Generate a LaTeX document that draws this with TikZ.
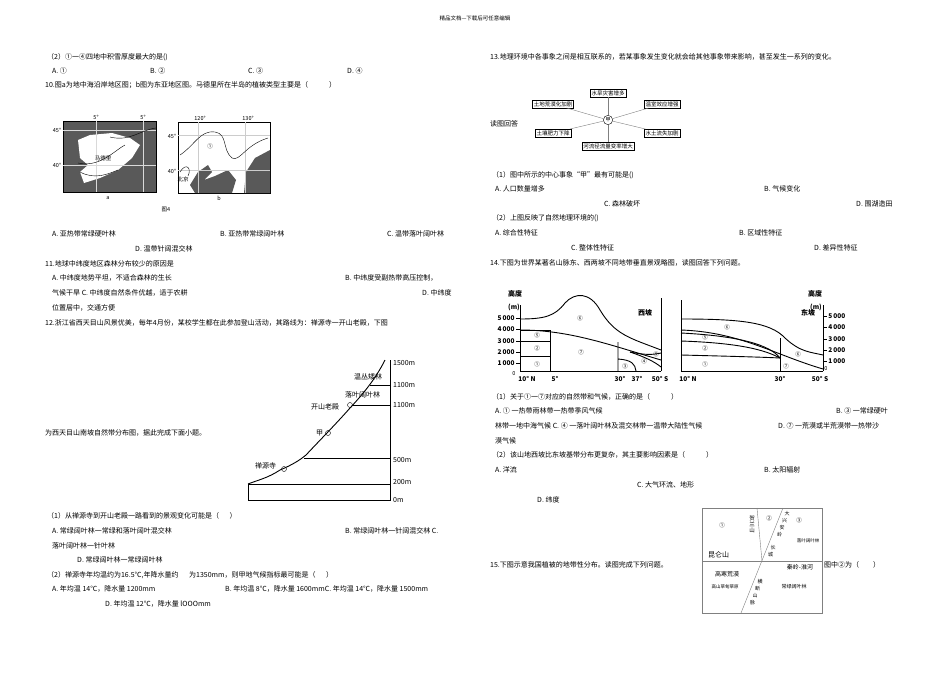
\documentclass[tikz,border=0pt]{standalone}
\usepackage{fontspec}
\setmainfont{Noto Sans CJK SC}
\begin{document}
\begin{tikzpicture}[x=1pt,y=-1pt,
 t/.style={anchor=west,inner sep=0pt,font=\fontsize{7}{8}\selectfont},
 s/.style={inner sep=0pt,font=\fontsize{5.5}{6}\selectfont},
 ch/.style={inner sep=0pt,font=\fontsize{5}{5}\selectfont},
 ebox/.style={draw,inner sep=1.2pt,font=\fontsize{5.5}{6}\selectfont,fill=white},
 thk/.style={line width=0.9pt}]
\useasboundingbox (0,0) rectangle (950,672);
\node[s] (hdr) at (475,18) {精品文档---下载后可任意编辑};
% ===== left column =====
\node[t] (q2) at (47,57) {（2）①一④四地中积雪厚度最大的是()};
\node[t] (q2a) at (52,71) {A. ①};
\node[t] (q2b) at (150,71) {B. ②};
\node[t] (q2c) at (248,71) {C. ③};
\node[t] (q2d) at (347,71) {D. ④};
\node[t] (q10) at (45,85) {10.图a为地中海沿岸地区图；b图为东亚地区图。马德里所在半岛的植被类型主要是（\hspace{3em}）};
% map a
\fill[gray!70!black] (63,121) rectangle (156,192);
\fill[white] (78,140) -- (90,135) -- (112,133) -- (130,138) -- (140,145) -- (132,158) -- (118,170) -- (100,178) -- (84,183) -- (80,172) -- (88,165) -- (80,158) -- cycle;
\draw (63,121) rectangle (156,192);
\draw[gray!30] (63,130) -- (156,130) (63,165) -- (156,165) (96,121) -- (96,192) (143,121) -- (143,192);
\draw (110,137) .. controls (130,142) and (140,130) .. (156,128);
\draw (78,163) .. controls (100,168) and (115,150) .. (125,145);
\draw (80,172) .. controls (95,180) and (108,174) .. (118,170);
\node[s] (mad) at (103,158) {马德里};
\node[s] (a45) at (57,130) {45°}; \node[s] (a40) at (57,165) {40°};
\node[s] (a5l) at (96,117) {5°}; \node[s] (a5r) at (143,117) {5°};
\node[s] (la) at (108,198) {a};
% map b
\draw (178,122) rectangle (270,193);
\fill[gray!70!black] (270,150) -- (255,158) -- (246,172) -- (244,193) -- (270,193) -- cycle;
\fill[gray!70!black] (190,185) -- (198,172) -- (208,165) -- (212,172) -- (204,180) -- (215,176) -- (228,170) -- (236,180) -- (232,193) -- (195,193) -- cycle;
\draw[gray!40] (178,135) -- (270,135) (178,170) -- (270,170) (198,122) -- (198,193) (245,122) -- (245,193);
\draw (180,155) .. controls (195,145) and (200,130) .. (215,132) .. controls (228,134) and (222,150) .. (232,158) .. controls (240,162) and (245,145) .. (268,138);
\draw (180,172) .. controls (186,162) and (192,168) .. (188,176);
\node[s] (c1) at (210,146) {①};
\node[s] (bj) at (183,179) {北京};
\node[s] (b45) at (172,136) {45°}; \node[s] (b40) at (172,171) {40°};
\node[s] (b120) at (200,118) {120°}; \node[s] (b130) at (248,118) {130°};
\node[s] (lb) at (219,198) {b};
\node[s] (fig4) at (166,210) {图4};
\node[t] (q10a) at (52,234) {A. 亚热带常绿硬叶林};
\node[t] (q10b) at (220,234) {B. 亚热带常绿阔叶林};
\node[t] (q10c) at (387,234) {C. 温带落叶阔叶林};
\node[t] (q10d) at (135,249) {D. 温带针阔混交林};
\node[t] (q11) at (45,264) {11.地球中纬度地区森林分布较少的原因是};
\node[t] (q11a) at (52,278) {A. 中纬度地势平坦，不适合森林的生长};
\node[t] (q11b) at (345,278) {B. 中纬度受副热带高压控制，};
\node[t] (q11c) at (52,293) {气候干旱 C. 中纬度自然条件优越，适于农耕};
\node[t] (q11d) at (422,293) {D. 中纬度};
\node[t] (q11e) at (52,308) {位置居中，交通方便};
\node[t] (q12) at (45,323) {12.浙江省西天目山风景优美，每年4月份，某校学生都在此参加登山活动，其路线为：禅源寺一开山老殿，下图};
% mountain
\draw[thk] (248,500) -- (248,484) -- (390,484);
\draw[thk] (248,500) -- (390,500) -- (390,360);
\draw[thk] (248,484) .. controls (258,480) and (268,478) .. (280,470) .. controls (292,465) and (300,460) .. (306,455) .. controls (320,440) and (335,425) .. (350,408) .. controls (362,395) and (375,380) .. (385,360);
\draw[thk] (304,458) -- (390,458) (352,405) -- (390,405) (370,385) -- (390,385);
\node[t] (h1500) at (393,363) {1500m}; \node[t] (h1100a) at (393,385) {1100m};
\node[t] (h1100b) at (393,405) {1100m}; \node[t] (h500) at (393,460) {500m};
\node[t] (h200) at (393,482) {200m}; \node[t] (h0) at (393,500) {0m};
\node[t] (wc) at (354,377) {温丛矮林};
\node[t] (lyk) at (345,395) {落叶阔叶林};
\node[t] (ksld) at (311,407) {开山老殿};
\draw (350,405) circle (2.5);
\node[t] (jia) at (316,433) {甲}; \draw (328,433) circle (2.5);
\node[t] (cys) at (255,466) {禅源寺}; \draw (284,469) circle (2.5);
\node[t] (q12b) at (45,433) {为西天目山南坡自然带分布图，据此完成下面小题。};
\node[t] (q121) at (47,516) {（1）从禅源寺到开山老殿一路看到的景观变化可能是（\hspace{1.5em}）};
\node[t] (q121a) at (52,531) {A. 常绿阔叶林一常绿和落叶阔叶混交林};
\node[t] (q121b) at (345,531) {B. 常绿阔叶林一针阔混交林 C.};
\node[t] (q121c) at (52,546) {落叶阔叶林一针叶林};
\node[t] (q121d) at (77,560) {D. 常绿阔叶林一常绿阔叶林};
\node[t] (q122) at (47,575) {（2）禅源寺年均温约为16.5℃,年降水量约\hspace{1.5em}为1350mm，则甲地气候指标最可能是（\hspace{1.5em}）};
\node[t] (q122a) at (52,589) {A. 年均温 14℃，降水量 1200mm};
\node[t] (q122b) at (225,589) {B. 年均温 8℃，降水量 1600mmC. 年均温 14℃，降水量 1500mm};
\node[t] (q122d) at (105,604) {D. 年均温 12℃，降水量 lOOOmm};
% ===== right column =====
\node[t] (q13) at (490,57) {13.地理环境中各事象之间是相互联系的，若某事象发生变化就会给其他事象带来影响，甚至发生一系列的变化。};
\node[draw,circle,inner sep=1pt,font=\fontsize{5}{5}\selectfont] (jc) at (608,120) {甲};
\node[ebox] (e1) at (608,93) {水旱灾害增多};
\node[ebox] (e2) at (553,104) {土地荒漠化加剧};
\node[ebox] (e3) at (662,104) {温室效应增强};
\node[ebox] (e4) at (553,133) {土壤肥力下降};
\node[ebox] (e5) at (662,133) {水土流失加剧};
\node[ebox] (e6) at (608,146) {河流径流量变率增大};
\foreach \e in {e1,e2,e3,e4,e5,e6} \draw[gray] (jc) -- (\e);
\node[t] (rd) at (490,124) {读图回答};
\node[t] (q131) at (492,175) {（1）图中所示的中心事象“甲”最有可能是()};
\node[t] (q131a) at (495,189) {A. 人口数量增多};
\node[t] (q131b) at (764,189) {B. 气候变化};
\node[t] (q131c) at (604,204) {C. 森林破坏};
\node[t] (q131d) at (856,204) {D. 围湖造田};
\node[t] (q132) at (492,218) {（2）上图反映了自然地理环境的()};
\node[t] (q132a) at (495,233) {A. 综合性特征};
\node[t] (q132b) at (739,233) {B. 区域性特征};
\node[t] (q132c) at (571,248) {C. 整体性特征};
\node[t] (q132d) at (814,248) {D. 差异性特征};
\node[t] (q14) at (490,263) {14.下图为世界某著名山脉东、西两坡不同地带垂直景观略图，读图回答下列问题。};
% west slope chart
\begin{scope}[thk]
\draw (520,371) -- (520,305) (520,371) -- (661,371) (661,371) -- (661,298);
\foreach \v/\y in {5/318,4/329,3/341,2/352,1/363} {\draw (516,\y) -- (520,\y); \node[anchor=east,inner sep=0pt,font=\fontsize{6.5}{7}\selectfont\bfseries] at (515,\y) {\v\,000};}
\draw (520,319) .. controls (545,319) and (555,316) .. (565,303) .. controls (575,292) and (590,292) .. (600,310) .. controls (615,335) and (630,338) .. (661,350);
\draw (520,330) .. controls (570,330) and (610,345) .. (661,360);
\draw (520,330) -- (520,371) (520,330) -- (550,330) (550,330) -- (550,371);
\draw (520,341) -- (550,341) (520,356) -- (550,356);
\draw (618,342) -- (618,371) (618,359) .. controls (632,360) and (635,364) .. (636,371);
\draw (630,352) .. controls (645,355) and (652,355) .. (661,353);
\draw (630,352) .. controls (645,357) and (655,362) .. (661,367);
\end{scope}
\node[t,font=\fontsize{7}{8}\selectfont\bfseries] (gd1) at (508,294) {高度};
\node[t,font=\fontsize{6.5}{7}\selectfont\bfseries] (m1) at (508,307) {(m)};
\node[t,font=\fontsize{7}{8}\selectfont\bfseries] (xp) at (638,313) {西坡};
\node[s] (w6) at (580,318) {⑥}; \node[s] (w5) at (537,335) {⑤};
\node[s] (w2) at (537,348) {②}; \node[s] (w1) at (537,364) {①};
\node[s] (w7) at (581,352) {⑦}; \node[s] (w3) at (625,366) {③};
\node[s] (w4) at (644,361) {④}; \node[s] (w5b) at (656,354) {⑤};
\node[s] (z0) at (514,374) {0};
% east slope chart
\begin{scope}[thk]
\draw (681,371) -- (681,300) (681,371) -- (823,371) (823,371) -- (823,305);
\foreach \v/\y in {5/316,4/327,3/339,2/350,1/361} {\draw (823,\y) -- (827,\y); \node[anchor=west,inner sep=0pt,font=\fontsize{6.5}{7}\selectfont\bfseries] at (828,\y) {\v\,000};}
\draw (681,319) .. controls (740,319) and (770,322) .. (785,338) .. controls (800,352) and (810,352) .. (823,355);
\draw (681,333) .. controls (740,336) and (770,345) .. (780,358);
\draw (681,341) .. controls (740,343) and (765,350) .. (780,358);
\draw (681,355) .. controls (720,356) and (760,357) .. (780,358);
\draw (681,330) .. controls (740,332) and (775,355) .. (823,369);
\draw (780,338) -- (780,371);
\end{scope}
\node[t,font=\fontsize{7}{8}\selectfont\bfseries] (gd2) at (808,294) {高度};
\node[t,font=\fontsize{6.5}{7}\selectfont\bfseries] (m2) at (810,307) {(m)};
\node[t,font=\fontsize{7}{8}\selectfont\bfseries] (dp) at (801,313) {东坡};
\node[s] (e6l) at (727,327) {⑥}; \node[s] (e5l) at (705,337) {⑤};
\node[s] (e2l) at (705,348) {②}; \node[s] (e1l) at (705,364) {①};
\node[s] (e6r) at (798,354) {⑥}; \node[s] (e7l) at (786,366) {⑦};
\node[s] (z02) at (826,369) {0};
\foreach \x/\l in {527/10° N,555/5°,620/30°,637/37°,660/50° S,688/10° N,780/30°,820/50° S}
  \node[inner sep=0pt,font=\fontsize{6.5}{7}\selectfont\bfseries] at (\x,379) {\l};
\node[t] (q141) at (492,397) {（1）关于①一⑦对应的自然带和气候，正确的是（\hspace{3em}）};
\node[t] (q141a) at (495,411) {A. ① 一热带雨林带一热带季风气候};
\node[t] (q141b) at (836,411) {B. ③ 一常绿硬叶};
\node[t] (q141c) at (495,426) {林带一地中海气候 C. ④ 一落叶阔叶林及混交林带一温带大陆性气候};
\node[t] (q141d) at (778,426) {D. ⑦ 一荒漠或半荒漠带一热带沙};
\node[t] (q141e) at (495,441) {漠气候};
\node[t] (q142) at (492,455) {（2）该山地西坡比东坡基带分布更复杂，其主要影响因素是（\hspace{3em}）};
\node[t] (q142a) at (495,470) {A. 洋流};
\node[t] (q142b) at (764,470) {B. 太阳辐射};
\node[t] (q142c) at (637,485) {C. 大气环流、地形};
\node[t] (q142d) at (537,500) {D. 纬度};
% China map
\draw[gray] (702,508) rectangle (822,613);
\draw[gray] (702,561) -- (822,561);
\draw[gray] (757,508) -- (762,561);
\draw[gray] (783,508) -- (741,613);
\node[s] (m1c) at (722,525) {①}; \node[s] (m2c) at (769,518) {②}; \node[s] (m3c) at (799,520) {③};
\node[s,align=center] (hls) at (752,524) {贺\\兰\\山};
\node[ch] (dx1) at (787,514) {大}; \node[ch] (dx2) at (784.5,521) {兴};
\node[ch] (dx3) at (782,528) {安}; \node[ch] (dx4) at (779.5,535) {岭};
\node[ch] (cc1) at (773,548) {长}; \node[ch] (cc2) at (770.5,555) {城};
\node[s,font=\fontsize{4.5}{5}\selectfont] (lyk2) at (808,541) {落叶阔叶林};
\node[t] (kls) at (708,555) {昆仑山};
\node[s,font=\fontsize{6}{6}\selectfont] (qlhh) at (800,567) {秦岭-淮河};
\node[s,font=\fontsize{6}{6}\selectfont] (ghhm) at (727,574) {高寒荒漠};
\node[s,font=\fontsize{4.5}{5}\selectfont] (gscd) at (725,587) {高山草甸草原};
\node[s,font=\fontsize{5}{5}\selectfont] (clk) at (794,587) {常绿阔叶林};
\node[ch] (hd1) at (760,582) {横}; \node[ch] (hd2) at (757.5,589) {断};
\node[ch] (hd3) at (755,596) {山}; \node[ch] (hd4) at (752.5,603) {脉};
\node[t] (q15) at (490,565) {15.下图示意我国植被的地带性分布。读图完成下列问题。};
\node[t] (q15b) at (824,565) {图中②为（\hspace{2em}）};
\end{tikzpicture}
\end{document}
